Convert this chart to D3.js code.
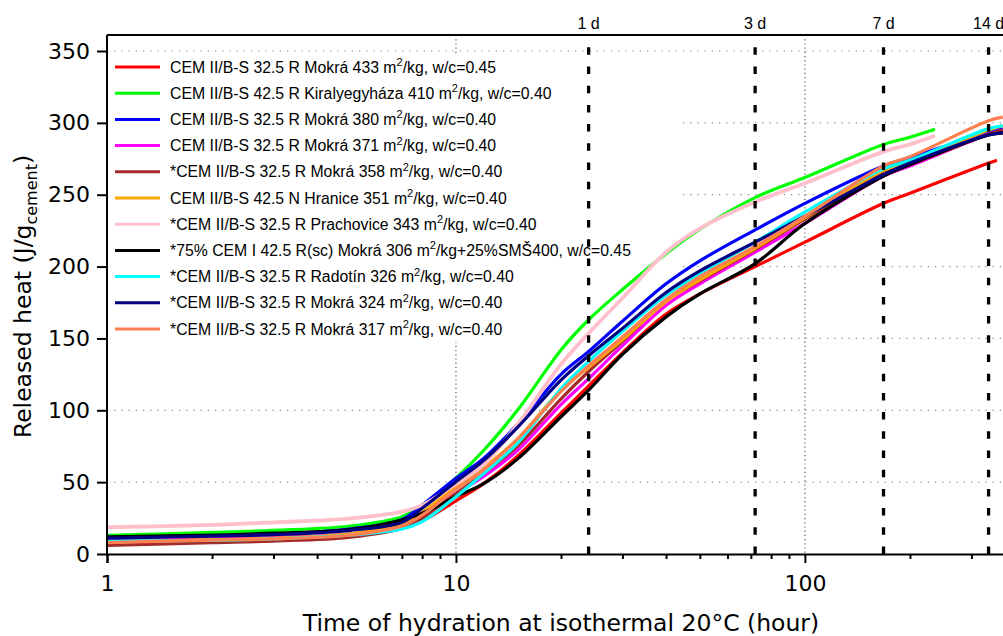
<!DOCTYPE html>
<html>
<head>
<meta charset="utf-8">
<script src="https://cdn.jsdelivr.net/npm/d3@7"></script>
<style>
  body { margin: 0; background: #fff; }
  svg { display: block; }
  .axis text { font-family: 'DejaVu Sans', sans-serif; font-size: 22px; fill: #000; }
  .axis path, .axis line { stroke: #000; stroke-width: 2px; }
  .legend text { font-family: 'Liberation Sans', Arial, sans-serif; font-size: 15.8px; fill: #000; }
</style>
</head>
<body>
<div id="chart"></div>
<script>
// time axis (hours) - most series share these points
var hours      = [1, 2, 3, 5, 7, 8, 10, 12, 15, 20, 24, 30, 40, 50, 72, 100, 168, 200, 336, 369];
var hoursShort = [1, 2, 3, 5, 7, 8, 10, 12, 15, 20, 24, 30, 40, 50, 72, 100, 168, 200, 236];
var hoursRed   = [1, 2, 3, 5, 7, 8, 10, 12, 15, 20, 24, 30, 40, 50, 72, 100, 168, 200, 336, 355];

// released heat J/g
var mokra433   = [9, 10, 11, 13, 18, 23, 37, 49, 68, 98, 117, 140, 167, 181, 200, 217, 244, 251, 272, 274];
var kiraly410  = [13, 15, 16.5, 19.5, 26, 34, 53, 72, 100, 142, 163, 184, 209, 226, 248, 262, 285, 290, 295.5];
var mokra380   = [11, 12.5, 13.5, 17.5, 24, 34, 52.7, 66.5, 90, 125, 141, 162, 188, 204, 225.5, 244, 270, 276, 293, 296];
var mokra371   = [9, 10.5, 11.5, 14, 20, 27, 42, 54, 72, 104, 122, 145, 173, 188, 210, 230, 263, 270, 292, 295];
var mokra358   = [6, 7.9, 9, 11.8, 18, 25, 42, 56, 75, 108, 127, 148, 176, 190, 212, 233, 265, 271, 292, 295];
var hranice351 = [8.5, 10, 11, 14, 21, 29, 47, 60, 80, 114, 130, 149, 175.6, 190.7, 212.7, 234, 267, 273, 295, 298];
var prach343   = [18.6, 20.2, 22, 24.8, 29.5, 34, 48.7, 62, 90, 132, 153.6, 178, 210, 226.6, 245, 258, 280, 285, 291];
var cemI306    = [12, 13.2, 14.5, 17.2, 23.7, 28.3, 40, 49, 66, 95.5, 114, 139, 165, 181, 202, 230, 263, 271, 291.5, 293];
var radotin326 = [9, 9.5, 10.5, 13.2, 17.4, 22.5, 39.9, 56, 77, 115, 134, 155, 180, 195, 217, 238, 268, 274, 296, 298];
var mokra324   = [11, 12.5, 13.5, 16.5, 22, 31.8, 50.3, 65, 88, 121, 138, 157, 182, 197, 217, 235, 264, 272, 291.5, 293];
var mokra317   = [7.9, 9.7, 10.5, 13.2, 19.5, 27, 45, 58.5, 80, 113, 131, 151, 177, 193, 214, 235, 270, 276.5, 301.5, 304];

// legend labels: [before superscript, after superscript]
var labels = [
  ['CEM II/B-S 32.5 R Mokrá 433 m', '/kg, w/c=0.45'],
  ['CEM II/B-S 42.5 R Kiralyegyháza 410 m', '/kg, w/c=0.40'],
  ['CEM II/B-S 32.5 R Mokrá 380 m', '/kg, w/c=0.40'],
  ['CEM II/B-S 32.5 R Mokrá 371 m', '/kg, w/c=0.40'],
  ['*CEM II/B-S 32.5 R Mokrá 358 m', '/kg, w/c=0.40'],
  ['CEM II/B-S 42.5 N Hranice 351 m', '/kg, w/c=0.40'],
  ['*CEM II/B-S 32.5 R Prachovice 343 m', '/kg, w/c=0.40'],
  ['*75% CEM I 42.5 R(sc) Mokrá 306 m', '/kg+25%SMŠ400, w/c=0.45'],
  ['*CEM II/B-S 32.5 R Radotín 326 m', '/kg, w/c=0.40'],
  ['*CEM II/B-S 32.5 R Mokrá 324 m', '/kg, w/c=0.40'],
  ['*CEM II/B-S 32.5 R Mokrá 317 m', '/kg, w/c=0.40']
];
var colors = ['#ff0000', '#00ff00', '#0000ff', '#ff00ff', '#a52a2a', '#ffa500',
              '#ffc0cb', '#000000', '#00ffff', '#000080', '#ff7f50'];
var times = [hoursRed, hoursShort, hours, hours, hours, hours, hoursShort, hours, hours, hours, hours];
var values = [mokra433, kiraly410, mokra380, mokra371, mokra358, hranice351,
              prach343, cemI306, radotin326, mokra324, mokra317];

var dayMarks = [24, 72, 168, 336];
var dayLabels = ['1 d', '3 d', '7 d', '14 d'];
var yTicks = [0, 50, 100, 150, 200, 250, 300, 350];
var xMajor = [1, 10, 100];
var xMinor = [2, 3, 4, 5, 6, 7, 8, 9, 20, 30, 40, 50, 60, 70, 80, 90, 200, 300];

var W = 1003, H = 636;
var pLeft = 107, pTop = 35, pBottom = 554, pRight = 1015;

var svg = d3.select('#chart').append('svg')
  .attr('width', W).attr('height', H);

var x = d3.scaleLog().domain([1, 400]).range([pLeft, pRight]);
var y = d3.scaleLinear().domain([0, 350]).range([pBottom, 51]);

// grid
var grid = svg.append('g');
grid.selectAll('.hgrid').data(yTicks.slice(1)).enter().append('line')
  .attr('x1', pLeft).attr('x2', pRight)
  .attr('y1', function(d) { return y(d); }).attr('y2', function(d) { return y(d); })
  .attr('stroke', '#888').attr('stroke-width', 1.2).attr('stroke-dasharray', '1.2,6');
grid.selectAll('.vgrid').data([10, 100]).enter().append('line')
  .attr('x1', function(d) { return x(d); }).attr('x2', function(d) { return x(d); })
  .attr('y1', pTop).attr('y2', pBottom)
  .attr('stroke', '#555').attr('stroke-width', 1.2).attr('stroke-dasharray', '1.2,3');

// legend background hides the grid
var rowH = 26.2, row0 = 67;
svg.append('rect')
  .attr('x', pLeft + 1).attr('y', row0 - 13)
  .attr('width', 677 - pLeft - 1).attr('height', rowH * labels.length)
  .attr('fill', '#fff');

// curves
var line = d3.line()
  .x(function(d) { return x(d[0]); })
  .y(function(d) { return y(d[1]); })
  .curve(d3.curveCatmullRom.alpha(0.5));

svg.append('g').selectAll('.curve')
  .data(values)
  .enter()
  .append('path')
  .attr('class', 'curve')
  .attr('fill', 'none')
  .attr('stroke', function(d, i) { return colors[i]; })
  .attr('stroke-width', function(d, i) { return i === 6 ? 3.8 : 3.2; })
  .attr('stroke-linejoin', 'round')
  .attr('d', function(d, i) {
    return line(d.map(function(v, j) { return [times[i][j], v]; }));
  });

// legend entries
var legend = svg.append('g').attr('class', 'legend');
var rows = legend.selectAll('.row').data(labels).enter().append('g')
  .attr('transform', function(d, i) { return 'translate(0,' + (row0 + i * rowH) + ')'; });
rows.append('line')
  .attr('x1', 115).attr('x2', 160).attr('y1', 0).attr('y2', 0)
  .attr('stroke', function(d, i) { return colors[i]; })
  .attr('stroke-width', 3);
var txt = rows.append('text').attr('x', 170).attr('y', 5.5);
txt.append('tspan').text(function(d) { return d[0]; });
txt.append('tspan').attr('dy', -6.5).style('font-size', '11px').text('2');
txt.append('tspan').attr('dy', 6.5).text(function(d) { return d[1]; });

// day markers
svg.append('g').selectAll('.day').data(dayMarks).enter().append('line')
  .attr('x1', function(d) { return x(d); }).attr('x2', function(d) { return x(d); })
  .attr('y1', pBottom).attr('y2', pTop)
  .attr('stroke', '#000').attr('stroke-width', 3.3)
  .attr('stroke-dasharray', '7.5,11.7');
svg.append('g').selectAll('.daylabel').data(dayMarks).enter().append('text')
  .attr('x', function(d) { return x(d); })
  .attr('y', 29)
  .attr('text-anchor', 'middle')
  .style('font-family', 'Liberation Sans, Arial, sans-serif')
  .style('font-size', '16px')
  .text(function(d, i) { return dayLabels[i]; });

// axes
svg.append('g')
  .attr('class', 'axis x-axis')
  .attr('transform', 'translate(0,' + pBottom + ')')
  .call(d3.axisBottom(x).tickValues(xMajor).tickSize(9).tickPadding(12).tickFormat(d3.format('d')));
svg.append('g')
  .attr('class', 'axis x-minor')
  .attr('transform', 'translate(0,' + pBottom + ')')
  .call(d3.axisBottom(x).tickValues(xMinor).tickSize(5).tickFormat(''))
  .select('.domain').remove();
svg.append('g')
  .attr('class', 'axis y-axis')
  .attr('transform', 'translate(' + pLeft + ',0)')
  .call(d3.axisLeft(y).tickValues(yTicks).tickSize(10).tickPadding(7).tickSizeOuter(0));
svg.select('.y-axis .domain').attr('d', 'M0,' + pTop + 'V' + pBottom);

svg.append('line')
  .attr('x1', pLeft).attr('x2', pRight).attr('y1', pTop).attr('y2', pTop)
  .attr('stroke', '#000').attr('stroke-width', 2);

// axis titles
svg.append('text')
  .attr('x', (pLeft + pRight) / 2).attr('y', 631)
  .attr('text-anchor', 'middle')
  .style('font-family', 'DejaVu Sans, sans-serif').style('font-size', '23.5px')
  .text('Time of hydration at isothermal 20°C (hour)');

var yt = svg.append('text')
  .attr('transform', 'translate(31,' + ((pTop + pBottom) / 2 + 2) + ') rotate(-90)')
  .attr('text-anchor', 'middle')
  .style('font-family', 'DejaVu Sans, sans-serif').style('font-size', '23.5px');
yt.append('tspan').text('Released heat (J/g');
yt.append('tspan').attr('dy', 6).style('font-size', '16px').text('cement');
yt.append('tspan').attr('dy', -6).text(')');
</script>
</body>
</html>
